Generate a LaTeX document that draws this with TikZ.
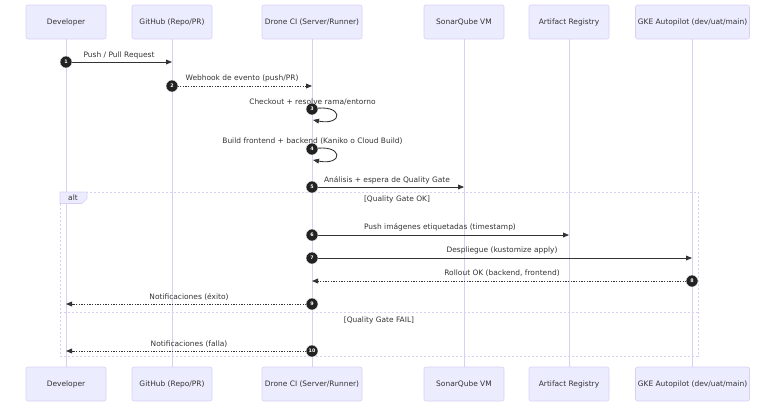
\documentclass[tikz,border=0pt]{standalone}
\usepackage{fontspec}
\setmainfont{DejaVu Sans}
\usetikzlibrary{arrows.meta}
\definecolor{actorfill}{HTML}{ECECFF}
\definecolor{actorline}{HTML}{DACEF3}
\definecolor{inkgray}{HTML}{333333}
\definecolor{badgeblack}{HTML}{222222}

\begin{document}
\begin{tikzpicture}[x=0.75pt,y=0.75pt,yscale=-1,xscale=1,
  actor/.style={draw=actorline,fill=actorfill,rounded corners=1.5pt,minimum height=0.75pt*34,inner sep=0pt,font=\fontsize{5.6}{6}\selectfont,text=inkgray},
  life/.style={draw=actorline,line width=0.75pt},
  msg/.style={draw=inkgray,line width=0.65pt,-{Triangle[length=4.5pt,width=3.6pt]}},
  reply/.style={msg,dash pattern=on 1pt off 1pt},
  badge/.style={circle,fill=badgeblack,draw=white,line width=0.3pt,minimum size=9pt,inner sep=0pt,text=white,font=\fontsize{3.6}{4}\bfseries\selectfont},
  lbl/.style={font=\fontsize{5.6}{6}\selectfont,text=inkgray,inner sep=0pt},
  frame/.style={draw=actorline,line width=0.75pt,dash pattern=on 1.5pt off 1.5pt}]
\useasboundingbox (0,0) rectangle (784,412);

%Shape: Actor boxes top
\node[actor,minimum width=0.75pt*80] (devT) at (66,22) {Developer};
\node[actor,minimum width=0.75pt*80] (ghT) at (172,22) {GitHub (Repo/PR)};
\node[actor,minimum width=0.75pt*100] (droneT) at (312,22) {Drone CI (Server/Runner)};
\node[actor,minimum width=0.75pt*80] (sonarT) at (464,22) {SonarQube VM};
\node[actor,minimum width=0.75pt*80] (regT) at (569,22) {Artifact Registry};
\node[actor,minimum width=0.75pt*114] (gkeT) at (692.5,22) {GKE Autopilot (dev/uat/main)};
%Shape: Actor boxes bottom
\node[actor,minimum width=0.75pt*80] (devB) at (66,384) {Developer};
\node[actor,minimum width=0.75pt*80] (ghB) at (172,384) {GitHub (Repo/PR)};
\node[actor,minimum width=0.75pt*100] (droneB) at (312,384) {Drone CI (Server/Runner)};
\node[actor,minimum width=0.75pt*80] (sonarB) at (464,384) {SonarQube VM};
\node[actor,minimum width=0.75pt*80] (regB) at (569,384) {Artifact Registry};
\node[actor,minimum width=0.75pt*114] (gkeB) at (692.5,384) {GKE Autopilot (dev/uat/main)};

%Straight Lines: lifelines
\draw[life] (devT) -- (devB);
\draw[life] (ghT) -- (ghB);
\draw[life] (droneT) -- (droneB);
\draw[life] (sonarT) -- (sonarB);
\draw[life] (regT) -- (regB);
\draw[life] (gkeT) -- (gkeB);

%Shape: alt frame
\draw[frame] (60,192) rectangle (698,356);
\draw[frame] (60,312) -- (698,312);
\draw[draw=actorline,fill=actorfill,line width=0.5pt] (60,192) -- (87,192) -- (87,198.5) -- (82,203.5) -- (60,203.5) -- cycle;
% Text Node
\node[lbl] (alt) at (73,198) {alt};
% Text Node
\node[lbl] (okcase) at (397,199) {[Quality Gate OK]};
% Text Node
\node[lbl] (failcase) at (379,320) {[Quality Gate FAIL]};

%Message 1
\coordinate (e1) at (172,62);
\draw[msg] (66,62) -- (e1);
\node[badge] (b1) at (66,62) {1};
\node[lbl] (m1) at (119,55) {Push / Pull Request};
%Message 2
\coordinate (e2) at (312,86);
\draw[reply] (172,86) -- (e2);
\node[badge] (b2) at (172,86) {2};
\node[lbl] (m2) at (242,78) {Webhook de evento (push/PR)};
%Message 3
\coordinate (e3) at (313,120);
\draw[msg] (312,109) .. controls (344,103) and (344,126) .. (e3);
\node[lbl] (m3) at (312.5,102) {Checkout + resolve rama/entorno};
\node[badge] (b3) at (312,109) {3};
%Message 4
\coordinate (e4) at (313,160);
\draw[msg] (312,149) .. controls (344,143) and (344,166) .. (e4);
\node[lbl] (m4) at (312.5,141) {Build frontend + backend (Kaniko o Cloud Build)};
\node[badge] (b4) at (312,149) {4};
%Message 5
\coordinate (e5) at (464,187);
\draw[msg] (312,187) -- (e5);
\node[badge] (b5) at (312,187) {5};
\node[lbl] (m5) at (387,180) {Análisis + espera de Quality Gate};
%Message 6
\coordinate (e6) at (569,235);
\draw[msg] (312,235) -- (e6);
\node[badge] (b6) at (312,235) {6};
\node[lbl] (m6) at (440,227) {Push imágenes etiquetadas (timestamp)};
%Message 7
\coordinate (e7) at (692,258);
\draw[msg] (312,258) -- (e7);
\node[badge] (b7) at (312,258) {7};
\node[lbl] (m7) at (502,250) {Despliegue (kustomize apply)};
%Message 8
\coordinate (e8) at (312,281);
\draw[reply] (692,281) -- (e8);
\node[badge] (b8) at (692,281) {8};
\node[lbl] (m8) at (502,273) {Rollout OK (backend, frontend)};
%Message 9
\coordinate (e9) at (66,304);
\draw[reply] (312,304) -- (e9);
\node[badge] (b9) at (312,304) {9};
\node[lbl] (m9) at (189,297) {Notificaciones (éxito)};
%Message 10
\coordinate (e10) at (66,351);
\draw[reply] (312,351) -- (e10);
\node[badge] (b10) at (312,351) {10};
\node[lbl] (m10) at (189,344) {Notificaciones (falla)};

\end{tikzpicture}
\end{document}
